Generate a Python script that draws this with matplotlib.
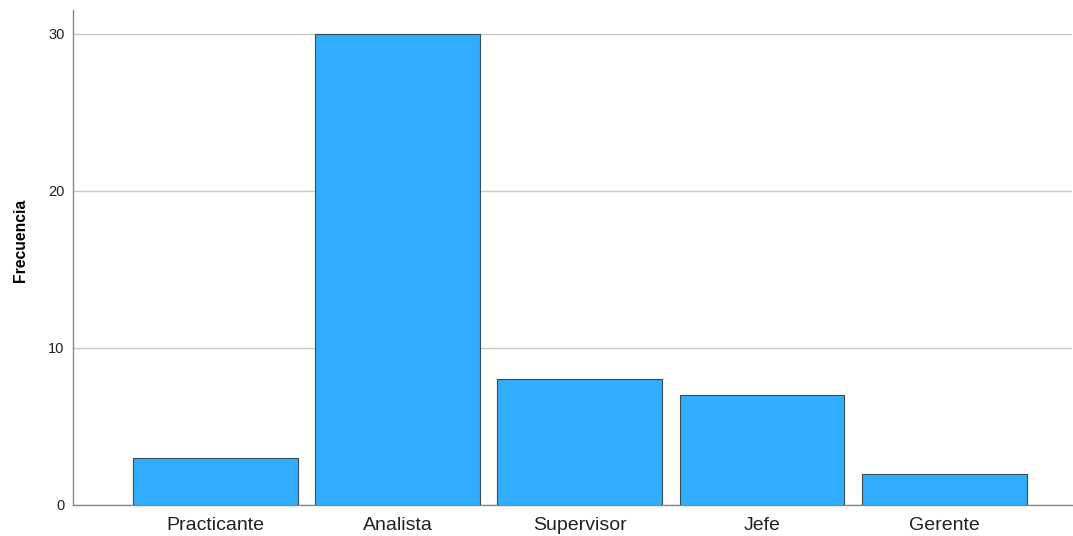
import matplotlib
matplotlib.use('Agg')
import matplotlib.pyplot as plt

# Frequency per job level
categories = ['Practicante', 'Analista', 'Supervisor', 'Jefe', 'Gerente']
frecuencia = [3, 30, 8, 7, 2]

plt.rcParams['font.family'] = ['Liberation Sans', 'DejaVu Sans']

fig = plt.figure(figsize=(10.73, 5.36), dpi=100)
ax = fig.add_axes([0.068, 0.058, 0.931, 0.923])

ax.bar(range(len(categories)), frecuencia, width=0.904, color='#31adff',
       edgecolor='#3a4a55', linewidth=0.8, zorder=3)

ax.set_xlim(-0.78, 4.70)
ax.set_ylim(0, 31.5)
ax.set_yticks([0, 10, 20, 30])
ax.set_xticks(range(len(categories)))
ax.set_xticklabels(categories, fontsize=14, color='#222222')
ax.tick_params(axis='y', labelsize=10.5, length=0, pad=6, colors='#222222')
ax.tick_params(axis='x', length=0, pad=9)
ax.grid(axis='y', color='#c8c8c8', linewidth=1, zorder=0)

ax.set_ylabel('Frecuencia', fontsize=11.3, fontweight='bold')
ax.yaxis.set_label_coords(-0.045, 0.535)

for side in ['top', 'right']:
    ax.spines[side].set_visible(False)
for side in ['left', 'bottom']:
    ax.spines[side].set_color('#888888')
    ax.spines[side].set_linewidth(1)

fig.savefig('out.png', dpi=100)
